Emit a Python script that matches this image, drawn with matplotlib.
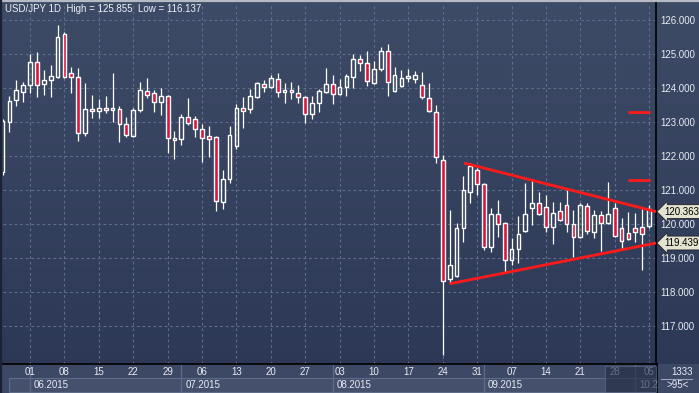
import matplotlib
matplotlib.use('Agg')
import matplotlib.pyplot as plt
import matplotlib.transforms as mtransforms
from matplotlib.patches import Rectangle
import numpy as np
import pandas as pd

plt.rcParams['font.family'] = ['Liberation Sans', 'DejaVu Sans']

# USD/JPY daily bars, 26 May - 05 Oct 2015
dates = pd.bdate_range('2015-05-26', '2015-10-05')
opens = [121.53, 123.00, 123.65, 123.88, 124.09, 124.76, 124.12, 124.24, 124.32, 125.59,
         124.44, 124.32, 122.68, 123.38, 123.32, 123.41, 123.35, 123.38, 122.94, 122.59,
         123.35, 123.91, 123.85, 123.59, 123.76, 122.48, 122.50, 123.15, 123.09, 122.79,
         122.59, 122.56, 120.65, 121.32, 122.29, 123.41, 123.38, 123.74, 124.12, 124.03,
         124.26, 123.88, 123.94, 123.85, 123.74, 123.24, 123.56, 123.88, 124.12, 123.82,
         124.03, 124.32, 124.85, 124.74, 124.15, 124.56, 125.09, 123.91, 124.06, 124.29,
         124.26, 124.09, 123.71, 123.29, 121.88, 118.38, 118.47, 119.88, 120.94, 121.59,
         121.18, 119.32, 120.29, 120.03, 118.94, 119.26, 119.79, 120.47, 120.62, 120.50,
         119.91, 120.38, 120.56, 120.00, 119.62, 120.53, 119.76, 120.26, 120.03, 120.47,
         119.88, 119.74, 119.88, 119.91, 119.94]
highs = [123.10, 123.75, 124.24, 124.18, 125.00, 125.06, 124.53, 124.68, 125.855, 125.65,
         124.62, 124.59, 124.15, 123.79, 123.68, 123.76, 124.44, 123.47, 123.15, 123.41,
         124.18, 124.29, 123.94, 124.00, 123.78, 122.74, 123.24, 123.71, 123.18, 122.94,
         122.88, 122.58, 121.59, 122.88, 123.53, 123.74, 123.97, 124.18, 124.24, 124.38,
         124.44, 124.15, 124.18, 124.09, 123.76, 123.76, 123.97, 124.59, 124.38, 124.26,
         124.41, 125.00, 124.97, 125.09, 124.79, 125.21, 125.29, 124.62, 124.53, 124.56,
         124.50, 124.47, 124.15, 123.50, 122.03, 120.41, 120.03, 121.41, 121.79, 121.65,
         121.20, 120.47, 120.71, 120.05, 119.59, 120.24, 121.21, 121.32, 120.94, 120.85,
         120.65, 120.65, 121.00, 120.41, 120.62, 120.62, 120.41, 120.38, 121.24, 120.62,
         120.18, 120.35, 120.32, 120.44, 120.56]
lows = [121.45, 122.70, 123.47, 123.59, 123.85, 123.74, 123.79, 123.74, 124.30, 124.30,
        123.85, 122.44, 122.59, 123.12, 123.12, 123.26, 123.00, 122.41, 122.56, 122.56,
        123.30, 123.71, 123.29, 123.21, 122.09, 121.91, 122.32, 122.91, 122.56, 121.82,
        121.97, 120.38, 120.44, 121.21, 122.21, 122.82, 123.26, 123.70, 123.88, 124.00,
        123.74, 123.56, 123.68, 123.56, 122.97, 123.09, 123.29, 123.86, 123.53, 123.80,
        123.76, 124.00, 124.50, 124.06, 124.13, 124.50, 123.76, 123.89, 124.03, 124.18,
        124.15, 123.68, 123.29, 121.79, 116.137, 118.24, 118.44, 119.47, 120.62, 120.85,
        119.24, 119.18, 119.62, 118.59, 118.79, 118.85, 119.77, 119.97, 120.27, 119.76,
        119.41, 120.10, 119.76, 119.03, 119.60, 119.71, 119.59, 119.21, 120.01, 119.63,
        119.26, 119.54, 119.47, 118.65, 119.88]
closes = [123.03, 123.62, 123.94, 124.09, 124.76, 124.09, 124.24, 124.35, 125.50, 124.32,
          124.32, 122.68, 123.38, 123.32, 123.41, 123.35, 123.41, 122.94, 122.62, 123.35,
          123.94, 123.79, 123.59, 123.76, 122.53, 122.53, 123.15, 122.97, 122.79, 122.53,
          122.50, 120.68, 121.32, 122.62, 123.41, 123.32, 123.76, 124.15, 124.03, 124.29,
          123.88, 123.94, 123.88, 123.74, 123.24, 123.56, 123.91, 124.12, 123.82, 124.03,
          124.35, 124.85, 124.74, 124.21, 124.56, 125.09, 124.18, 124.38, 124.29, 124.35,
          124.38, 123.74, 123.32, 121.97, 118.32, 118.79, 119.88, 121.00, 121.71, 121.18,
          119.32, 120.29, 120.00, 118.94, 119.26, 119.71, 120.29, 120.62, 120.29, 119.91,
          120.32, 120.12, 120.00, 119.62, 120.56, 119.79, 120.26, 120.03, 120.29, 119.65,
          119.50, 119.56, 119.76, 119.71, 120.44]

# triangle trend lines (bar position, price)
upper_x = [67.1, 95.0]
upper_y = [121.79, 120.363]
lower_x = [65.0, 95.0]
lower_y = [118.24, 119.439]
# short red level marks
level_prices = [123.29, 121.29]
level_span = [91.0, 94.1]

W, H = 699, 393
x_lo, x_hi = 0.07, 95.0
y_lo, y_hi = 115.88, 126.5
ax_l, ax_r, ax_t, ax_b = 3, 656, 3, 364


def ipx(i):
    return ax_l + (i - x_lo) * (ax_r - ax_l) / (x_hi - x_lo)


fig = plt.figure(figsize=(W / 100, H / 100), dpi=100)

# background layer in pixel units
bg = fig.add_axes([0, 0, 1, 1], zorder=-10)
bg.set_xlim(0, W)
bg.set_ylim(H, 0)
bg.axis('off')
top = np.array([0x3e, 0x4b, 0x67]) / 255
bot = np.array([0x2b, 0x37, 0x54]) / 255
t = np.linspace(0, 1, 256)[:, None, None]
grad = top * (1 - t) + bot * t
grad = np.repeat(grad, 2, axis=1)
bg.imshow(grad, extent=[0, W, H, 0], aspect='auto', interpolation='bilinear')

# bottom strip
bg.add_patch(Rectangle((0, ax_b), W, H - ax_b, fc='#3c4864', ec='none'))
bg.plot([0, W], [0.8, 0.8], color='#b5bac4', lw=1.6)
bg.plot([1, 1], [0, H], color='#1c2233', lw=1.6)

# month boxes
month_starts = pd.date_range('2015-06-01', '2015-10-01', freq='MS')
seps = []
for m in month_starts:
    k = int(np.searchsorted(dates, m))
    if dates[k] != m:
        k -= 1
    seps.append(ipx(k))
box_edges = [ipx(1) - 0.5] + seps + [ax_r]
for a, b in zip(box_edges[:-1], box_edges[1:]):
    bg.add_patch(Rectangle((a, 378), b - a, 14, fc='#44506c', ec='#5e6b89', lw=0.8))
for s in seps:
    bg.plot([s, s], [ax_b + 1, H - 1], color='#5e6b89', lw=0.9)
for s, e, m in zip(seps, box_edges[2:], month_starts):
    label = m.strftime('%m.%Y')
    if e - s < 40:
        label = label[:4]   # cut off by the price axis, as in the terminal
    bg.text(s + 4, 385, label, color='#e8ebf2', fontsize=7, va='center', ha='left')
bg.plot([ax_r + 0.5, ax_r + 0.5], [ax_b, H], color='black', lw=1.2)

# right-hand info box
bg.text(682, 372, '1333', color='#e8ebf2', fontsize=7, ha='center', va='center')
bg.plot([661, 692], [378.5, 378.5], color='#9aa3b6', lw=0.8)
bg.text(678, 385, '>95<', color='#e8ebf2', fontsize=7, ha='center', va='center')

# main chart
ax = fig.add_axes([ax_l / W, 1 - ax_b / H, (ax_r - ax_l) / W, (ax_b - ax_t) / H])
ax.set_facecolor('none')
ax.set_xlim(x_lo, x_hi)
ax.set_ylim(y_lo, y_hi)

idx = np.arange(len(dates))
o = np.array(opens)
h = np.array(highs)
l = np.array(lows)
c = np.array(closes)
up = c >= o
body_lo = np.minimum(o, c)
body_hi = np.maximum(o, c)

ax.vlines(idx, body_hi, h, color='white', lw=0.9, zorder=3)
ax.vlines(idx, l, body_lo, color='white', lw=0.9, zorder=3)
ax.bar(idx, np.maximum(body_hi - body_lo, 0.04), bottom=body_lo, width=0.55,
       color=np.where(up, 'none', '#dc143c'), edgecolor='white', linewidth=1.0, zorder=4)

ax.plot(upper_x, upper_y, color='#ff1a1a', lw=2.0, zorder=5, solid_capstyle='butt')
ax.plot(lower_x, lower_y, color='#ff1a1a', lw=2.0, zorder=5, solid_capstyle='butt')
ax.hlines(level_prices, level_span[0], level_span[1], color='#ff1a1a', lw=2.0, zorder=5)

# axes, ticks, grid
yt = np.arange(117, 127)
ax.set_yticks(yt)
ax.set_yticklabels(['%.3f' % v for v in yt])
ax.yaxis.tick_right()
mondays = idx[dates.dayofweek == 0]
ax.set_xticks(mondays)
ax.set_xticklabels(dates[mondays].strftime('%d'))
ax.tick_params(axis='both', length=0, colors='#e8ebf2', labelsize=7)
ax.tick_params(axis='y', pad=3)
ax.tick_params(axis='x', pad=2.5)
ax.grid(True, color='#5f6d8d', ls=(0, (2.5, 2.5)), lw=0.8)
ax.set_axisbelow(True)
for side in ['left', 'top']:
    ax.spines[side].set_visible(False)
ax.spines['right'].set_color('black')
ax.spines['bottom'].set_color('black')
ax.spines['right'].set_linewidth(1.2)
ax.spines['bottom'].set_linewidth(1.2)

# price tags for trend line ends
blend = mtransforms.blended_transform_factory(ax.transAxes, ax.transData)
for v in [upper_y[-1], lower_y[-1]]:
    ax.annotate('%.3f' % v, xy=(1, v), xycoords=blend, xytext=(6, 0),
                textcoords='offset points', ha='left', va='center', fontsize=7,
                color='black', annotation_clip=False, zorder=10,
                bbox=dict(boxstyle='larrow,pad=0.2', fc='#e3e3cf', ec='#1e222a', lw=0.6))

fig.text(5 / W, 1 - 9 / H, 'USD/JPY 1D  High = %.3f  Low = %.3f' % (max(highs), min(lows)),
         color='#eef0f5', fontsize=7, va='center', ha='left')

# scroll thumb over the last bars
ov = fig.add_axes([0, 0, 1, 1], zorder=5)
ov.set_xlim(0, W)
ov.set_ylim(H, 0)
ov.axis('off')
ov.add_patch(Rectangle((605, ax_b + 1.5), ax_r - 605, H - ax_b - 3, fc='#252e45',
                       alpha=0.65, ec='#5e6b89', lw=0.8))

plt.savefig('out.png', dpi=100)
